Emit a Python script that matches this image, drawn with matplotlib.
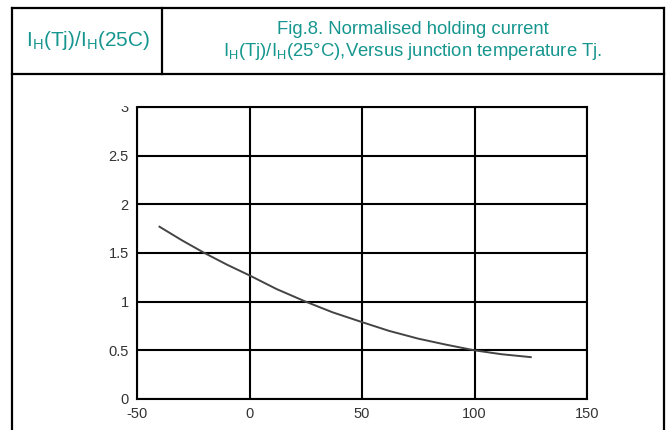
import numpy as np
import matplotlib.pyplot as plt
from matplotlib.lines import Line2D
from matplotlib.patches import Rectangle

plt.rcParams['font.family'] = ['Liberation Sans', 'DejaVu Sans']
plt.rcParams['mathtext.fontset'] = 'custom'
plt.rcParams['mathtext.rm'] = 'Liberation Sans'
plt.rcParams['axes.unicode_minus'] = False

# normalised holding current vs junction temperature
tj = [-40, -30, -20, -10, 0, 12, 25, 37, 50, 62, 75, 87, 100, 112, 125]
ih_ratio = [1.77, 1.63, 1.50, 1.38, 1.27, 1.13, 1.00, 0.89, 0.79, 0.70, 0.62, 0.56, 0.50, 0.46, 0.43]

x_ticks = [-50, 0, 50, 100, 150]
y_ticks = [0, 0.5, 1, 1.5, 2, 2.5, 3]
y_labels = ['0', '0.5', '1', '1.5', '2', '2.5', '3']

teal = '#16968f'
W, H = 667, 430
fig = plt.figure(figsize=(W / 100, H / 100), dpi=100)

# table frame around the header and the plot cell
def fx(px):
    return px / W

def fy(py):
    return 1 - py / H

lw = 1.6
fig.add_artist(Line2D([fx(11.5), fx(663.5)], [fy(8), fy(8)], color='black', lw=lw))
fig.add_artist(Line2D([fx(11.5), fx(663.5)], [fy(74), fy(74)], color='black', lw=lw))
fig.add_artist(Line2D([fx(11.5), fx(11.5)], [fy(8), 0], color='black', lw=lw))
fig.add_artist(Line2D([fx(663.5), fx(663.5)], [fy(8), 0], color='black', lw=lw))
fig.add_artist(Line2D([fx(162), fx(162)], [fy(8), fy(74)], color='black', lw=lw))

fig.text(fx(88), fy(41), r'I$_\mathrm{H}$(Tj)/I$_\mathrm{H}$(25C)', color=teal,
         fontsize=15, ha='center', va='center')
fig.text(fx(413), fy(29), 'Fig.8. Normalised holding current', color=teal,
         fontsize=13.3, ha='center', va='center')
fig.text(fx(413), fy(51), r'I$_\mathrm{H}$(Tj)/I$_\mathrm{H}$(25°C),Versus junction temperature Tj.',
         color=teal, fontsize=13.3, ha='center', va='center')

ax = fig.add_axes([fx(137), fy(399), fx(587) - fx(137), fy(107) - fy(399)])
ax.plot(tj, ih_ratio, color='#444444', lw=1.4)
ax.set_xlim(-50, 150)
ax.set_ylim(0, 3)
ax.set_xticks(x_ticks)
ax.set_yticks(y_ticks)
ax.set_yticklabels(y_labels)
ax.grid(True, color='black', lw=1.5)
ax.set_axisbelow(True)
for s in ax.spines.values():
    s.set_linewidth(1.5)
ax.tick_params(length=0, labelsize=10.5, colors='#333333', pad=6)

# the top of the figure area cuts the uppermost tick label
fig.add_artist(Rectangle((fx(100), fy(105)), fx(36), fy(80) - fy(105),
                         transform=fig.transFigure, color='white', zorder=10))

fig.savefig('out.png', dpi=100)
